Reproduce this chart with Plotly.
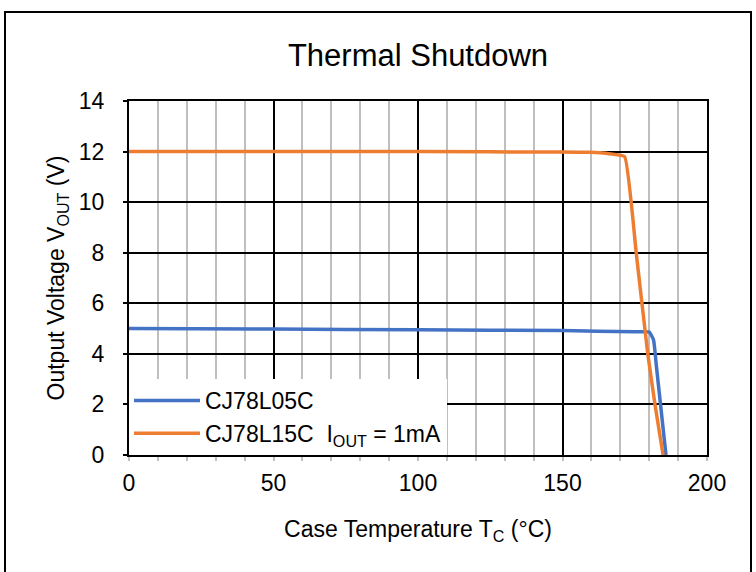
import plotly.graph_objects as go

# Data
t_05 = [0, 50, 100, 150, 175, 180, 181.5, 182.5, 185.8]
v_05 = [5.0, 4.98, 4.95, 4.92, 4.87, 4.86, 4.55, 3.5, 0.0]

t_15 = [0, 50, 100, 150, 160, 165, 171.5, 175.5, 179.5, 182, 184.8]
v_15 = [12.0, 12.0, 12.0, 11.98, 11.97, 11.93, 11.8, 8.0, 4.0, 2.0, 0.0]

x_ticks = [0, 50, 100, 150, 200]
y_ticks = [0, 2, 4, 6, 8, 10, 12, 14]

FONT = "Liberation Sans, Arial, sans-serif"
W, H = 756, 572
L, R, T, B = 129, 49, 101, 117
PW, PH = W - L - R, H - T - B

fig = go.Figure()
fig.add_trace(go.Scatter(x=t_05, y=v_05, mode="lines", name="CJ78L05C",
                         line=dict(color="#4472C4", width=3.5, shape="spline", smoothing=0.4)))
fig.add_trace(go.Scatter(x=t_15, y=v_15, mode="lines",
                         name="CJ78L15C  I<sub>OUT</sub> = 1mA",
                         line=dict(color="#ED7D31", width=3.5, shape="spline", smoothing=0.3)))

fig.update_layout(
    width=W, height=H,
    margin=dict(l=L, r=R, t=T, b=B),
    paper_bgcolor="white", plot_bgcolor="white",
    font=dict(family=FONT, size=23, color="black"),
    title=dict(text="Thermal Shutdown", x=0.5, xanchor="center", xref="paper",
               y=1 - 55 / H, yanchor="middle", yref="container",
               font=dict(size=31, family=FONT)),
    showlegend=True,
    legend=dict(x=0, y=0, xanchor="left", yanchor="bottom",
                bgcolor="white", borderwidth=0, font=dict(size=23, family=FONT),
                tracegroupgap=0, itemwidth=66),
    xaxis=dict(range=[0, 200], tickvals=x_ticks, showgrid=True, gridcolor="black",
               gridwidth=2, zeroline=False, showline=True, linecolor="black", linewidth=2,
               mirror=True, ticks="", tickfont=dict(size=23), ticklabelstandoff=6,
               title=dict(text="Case Temperature T<sub>C</sub> (°C)", font=dict(size=23), standoff=26),
               minor=dict(dtick=10, showgrid=True, gridcolor="#BFBFBF", gridwidth=1.5,
                          ticks="outside", ticklen=4, tickcolor="#BFBFBF", tickwidth=1.5)),
    yaxis=dict(range=[0, 14], tickvals=y_ticks, showgrid=True, gridcolor="black",
               gridwidth=2, zeroline=False, showline=True, linecolor="black", linewidth=2,
               mirror=True, ticks="outside", ticklen=4, tickwidth=1.5, tickcolor="black",
               tickfont=dict(size=23), ticklabelstandoff=14,
               title=dict(text="Output Voltage V<sub>OUT</sub> (V)", font=dict(size=23), standoff=8)),
    shapes=[dict(type="rect", xref="paper", yref="paper",
                 x0=(5 - L) / PW, x1=(751 - L) / PW,
                 y0=(H - B - 590) / PH, y1=(H - B - 12) / PH,
                 line=dict(color="black", width=2), fillcolor="rgba(0,0,0,0)", layer="below")],
)

fig.write_html("out.html", config={"displayModeBar": False},
               post_script="document.body.style.margin='0px';")
